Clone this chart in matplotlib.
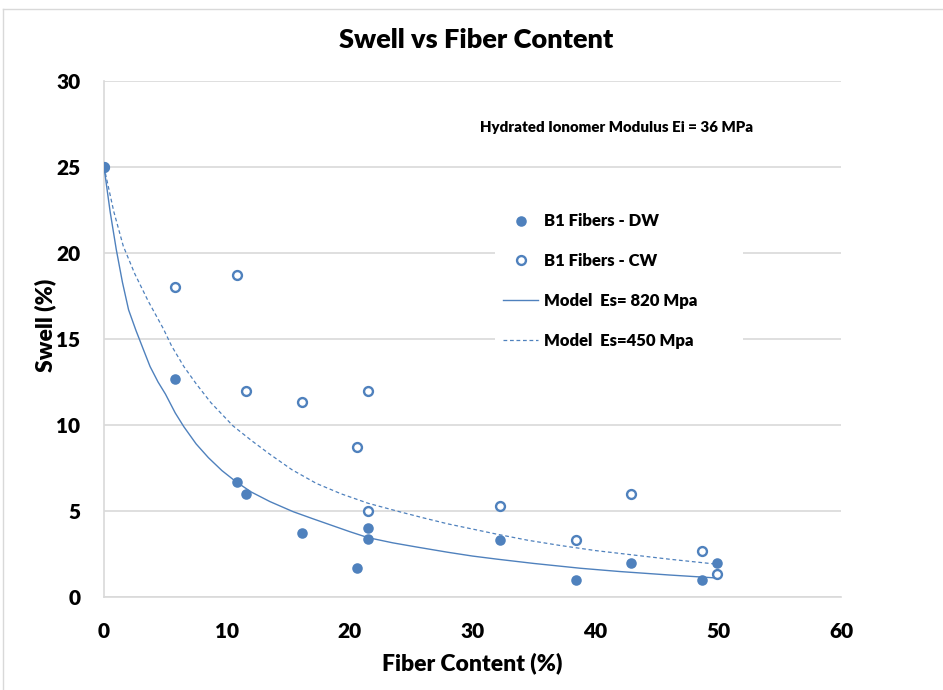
import matplotlib
matplotlib.use("Agg")
import matplotlib.pyplot as plt
from matplotlib.lines import Line2D

plt.rcParams['font.family'] = ['Lato', 'DejaVu Sans']
W = 'heavy'

# Measured swell data
dw_fiber = [0, 5.8, 10.8, 11.6, 16.1, 20.6, 21.5, 21.5, 32.2, 38.4, 42.9, 48.7, 49.9]
dw_swell = [25, 12.7, 6.7, 6.0, 3.7, 1.7, 4.0, 3.35, 3.3, 1.0, 2.0, 1.0, 2.0]

cw_fiber = [0, 5.8, 10.8, 11.6, 16.1, 20.6, 21.5, 21.5, 32.2, 38.4, 42.9, 48.7, 49.9]
cw_swell = [25, 18.0, 18.7, 12.0, 11.35, 8.7, 12.0, 5.0, 5.3, 3.3, 6.0, 2.65, 1.35]

# Model curves
m820_fiber = [0, 0.5, 1.0, 1.5, 2.0, 2.6, 3.2, 3.75, 4.4, 5.0, 5.8, 6.5, 7.5, 8.5,
              9.6, 10.75, 12.0, 13.5, 15.4, 17.0, 18.4, 20.0, 21.5, 23.5, 25.5, 28.0,
              30.0, 32.0, 35.0, 38.8, 42.0, 46.0, 50.0]
m820_swell = [25, 22.4, 20.2, 18.3, 16.7, 15.5, 14.4, 13.4, 12.5, 11.8, 10.7, 9.9, 8.9,
              8.1, 7.35, 6.7, 6.1, 5.55, 4.96, 4.55, 4.2, 3.8, 3.45, 3.15, 2.9, 2.6,
              2.38, 2.2, 1.95, 1.67, 1.48, 1.28, 1.1]

m450_fiber = [0, 0.8, 1.57, 2.5, 3.6, 4.83, 5.5, 6.5, 7.5, 8.7, 10.5, 12.0, 13.5, 15.3,
              17.3, 19.3, 21.5, 24.1, 26.0, 28.0, 30.0, 32.0, 34.5, 37.1, 40.0, 43.0,
              46.0, 50.0]
m450_swell = [25, 22.4, 20.4, 18.8, 17.2, 15.6, 14.6, 13.4, 12.4, 11.3, 9.95, 9.1, 8.3,
              7.4, 6.6, 6.0, 5.45, 4.95, 4.6, 4.25, 3.95, 3.65, 3.3, 3.0, 2.7, 2.45,
              2.2, 1.9]

labels = ['B1 Fibers - DW', 'B1 Fibers - CW', 'Model  Es= 820 Mpa', 'Model  Es=450 Mpa']
xticks = [0, 10, 20, 30, 40, 50, 60]
yticks = [0, 5, 10, 15, 20, 25, 30]

blue = '#4F81BD'
grid = '#D9D9D9'

fig = plt.figure(figsize=(9.43, 6.90), dpi=100)
ax = fig.add_axes([104/943, 1 - 597/690, (841 - 104)/943, (597 - 81)/690])

ax.plot(m820_fiber, m820_swell, color=blue, lw=1.0, zorder=3)
ax.plot(m450_fiber, m450_swell, color=blue, lw=0.9, linestyle=(0, (3, 2.2)), zorder=3)
ax.plot(cw_fiber, cw_swell, linestyle='none', marker='o', ms=6.4, mew=1.7,
        mfc='white', mec=blue, zorder=4)
ax.plot(dw_fiber, dw_swell, linestyle='none', marker='o', ms=7.6, mew=0,
        mfc=blue, zorder=5)

ax.set_xlim(0, 60)
ax.set_ylim(0, 30)
ax.set_xticks(xticks)
ax.set_yticks(yticks)
ax.tick_params(length=0, labelsize=15)
ax.tick_params(axis='y', pad=17)
ax.tick_params(axis='x', pad=18)
for lab in ax.get_xticklabels() + ax.get_yticklabels():
    lab.set_fontweight(W)
ax.yaxis.grid(True, color=grid, lw=1.2)
ax.set_axisbelow(True)
for s in ['top', 'right']:
    ax.spines[s].set_visible(False)
for s in ['left', 'bottom']:
    ax.spines[s].set_color(grid)
    ax.spines[s].set_linewidth(1.2)

ax.set_xlabel('Fiber Content (%)', fontsize=16.5, fontweight=W)
ax.xaxis.set_label_coords(0.5, -0.128)
ax.xaxis.label.set_va('center')
ax.set_ylabel('Swell (%)', fontsize=16.5, fontweight=W)
ax.yaxis.set_label_coords(-0.08, 0.527)
ax.yaxis.label.set_va('center')

fig.text(476/943, 1 - 40/690, 'Swell vs Fiber Content', ha='center', va='center',
         fontsize=19.5, fontweight=W)
fig.text(480/943, 1 - 127/690, 'Hydrated Ionomer Modulus Ei = 36 MPa', ha='left',
         va='center', fontsize=10.8, fontweight=W)

handles = [
    Line2D([], [], linestyle='none', marker='o', ms=7.6, mew=0, mfc=blue),
    Line2D([], [], linestyle='none', marker='o', ms=6.4, mew=1.7, mfc='white', mec=blue),
    Line2D([], [], color=blue, lw=1.0),
    Line2D([], [], color=blue, lw=0.9, linestyle=(0, (3, 2.2))),
]
leg = ax.legend(handles, labels, loc='upper left', mode='expand',
                bbox_to_anchor=(495/943, 1 - 212/690, (743 - 495)/943, 0.01),
                bbox_transform=fig.transFigure, frameon=True, fancybox=False,
                borderpad=0.5, borderaxespad=0, handlelength=2.1,
                handletextpad=0.35, labelspacing=1.43,
                prop={'weight': W, 'size': 12})
leg.get_frame().set_facecolor('white')
leg.get_frame().set_edgecolor('none')
leg.get_frame().set_alpha(1)

# outer chart frame
fig.add_artist(Line2D([3/943, 3/943], [0, 1 - 9/690], transform=fig.transFigure,
                      color=grid, lw=1.0))
fig.add_artist(Line2D([3/943, 1], [1 - 9/690, 1 - 9/690], transform=fig.transFigure,
                      color=grid, lw=1.0))

fig.savefig('out.png', dpi=100, facecolor='white')
